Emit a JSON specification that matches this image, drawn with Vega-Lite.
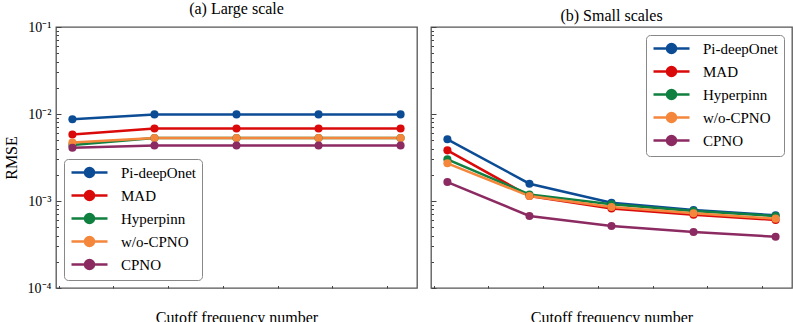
{
  "$schema": "https://vega.github.io/schema/vega-lite/v6.json",
  "padding": {"left": 2, "top": 0, "right": 1, "bottom": 0},
  "config": {
    "font": "Liberation Serif",
    "view": {"stroke": "#555", "strokeWidth": 1.3},
    "axis": {"domain": false, "grid": false, "labelFontSize": 15, "labelColor": "#000", "tickColor": "#444", "titleFontSize": 16, "titleFontWeight": "normal"},
    "title": {"fontSize": 16, "fontWeight": "normal", "offset": 3},
    "legend": {"labelFontSize": 15, "labelColor": "#000", "symbolSize": 144, "labelOffset": 36, "symbolStrokeWidth": 2.5,
      "symbolType": "M-1,0L5,0M1.25,0A0.75,0.75,0,1,1,2.75,0A0.75,0.75,0,1,1,1.25,0Z", "title": null,
      "strokeColor": "#888", "fillColor": "white", "cornerRadius": 4, "padding": 6, "rowPadding": 4}
  },
  "datasets": {
    "large": [
      {"freq": 3, "rmse": 0.0087, "model": "Pi-deepOnet"},
      {"freq": 6, "rmse": 0.0099, "model": "Pi-deepOnet"},
      {"freq": 9, "rmse": 0.0099, "model": "Pi-deepOnet"},
      {"freq": 12, "rmse": 0.0099, "model": "Pi-deepOnet"},
      {"freq": 15, "rmse": 0.0099, "model": "Pi-deepOnet"},
      {"freq": 3, "rmse": 0.0058, "model": "MAD"},
      {"freq": 6, "rmse": 0.0068, "model": "MAD"},
      {"freq": 9, "rmse": 0.0068, "model": "MAD"},
      {"freq": 12, "rmse": 0.0068, "model": "MAD"},
      {"freq": 15, "rmse": 0.0068, "model": "MAD"},
      {"freq": 3, "rmse": 0.0044, "model": "Hyperpinn"},
      {"freq": 6, "rmse": 0.0053, "model": "Hyperpinn"},
      {"freq": 9, "rmse": 0.0053, "model": "Hyperpinn"},
      {"freq": 12, "rmse": 0.0053, "model": "Hyperpinn"},
      {"freq": 15, "rmse": 0.0053, "model": "Hyperpinn"},
      {"freq": 3, "rmse": 0.0047, "model": "w/o-CPNO"},
      {"freq": 6, "rmse": 0.0053, "model": "w/o-CPNO"},
      {"freq": 9, "rmse": 0.0053, "model": "w/o-CPNO"},
      {"freq": 12, "rmse": 0.0053, "model": "w/o-CPNO"},
      {"freq": 15, "rmse": 0.0053, "model": "w/o-CPNO"},
      {"freq": 3, "rmse": 0.0041, "model": "CPNO"},
      {"freq": 6, "rmse": 0.00435, "model": "CPNO"},
      {"freq": 9, "rmse": 0.00435, "model": "CPNO"},
      {"freq": 12, "rmse": 0.00435, "model": "CPNO"},
      {"freq": 15, "rmse": 0.00435, "model": "CPNO"}
    ],
    "small": [
      {"freq": 3, "rmse": 0.00512, "model": "Pi-deepOnet"},
      {"freq": 6, "rmse": 0.00158, "model": "Pi-deepOnet"},
      {"freq": 9, "rmse": 0.000957, "model": "Pi-deepOnet"},
      {"freq": 12, "rmse": 0.000789, "model": "Pi-deepOnet"},
      {"freq": 15, "rmse": 0.000685, "model": "Pi-deepOnet"},
      {"freq": 3, "rmse": 0.00382, "model": "MAD"},
      {"freq": 6, "rmse": 0.00114, "model": "MAD"},
      {"freq": 9, "rmse": 0.000822, "model": "MAD"},
      {"freq": 12, "rmse": 0.000696, "model": "MAD"},
      {"freq": 15, "rmse": 0.000605, "model": "MAD"},
      {"freq": 3, "rmse": 0.00301, "model": "Hyperpinn"},
      {"freq": 6, "rmse": 0.00119, "model": "Hyperpinn"},
      {"freq": 9, "rmse": 0.000916, "model": "Hyperpinn"},
      {"freq": 12, "rmse": 0.000767, "model": "Hyperpinn"},
      {"freq": 15, "rmse": 0.000673, "model": "Hyperpinn"},
      {"freq": 3, "rmse": 0.00271, "model": "w/o-CPNO"},
      {"freq": 6, "rmse": 0.00114, "model": "w/o-CPNO"},
      {"freq": 9, "rmse": 0.000853, "model": "w/o-CPNO"},
      {"freq": 12, "rmse": 0.000722, "model": "w/o-CPNO"},
      {"freq": 15, "rmse": 0.000627, "model": "w/o-CPNO"},
      {"freq": 3, "rmse": 0.00165, "model": "CPNO"},
      {"freq": 6, "rmse": 0.000673, "model": "CPNO"},
      {"freq": 9, "rmse": 0.000516, "model": "CPNO"},
      {"freq": 12, "rmse": 0.000441, "model": "CPNO"},
      {"freq": 15, "rmse": 0.000389, "model": "CPNO"}
    ]
  },
  "spacing": 11,
  "resolve": {"legend": {"color": "independent"}},
  "hconcat": [
    {
      "width": 361, "height": 261,
      "title": "(a) Large scale",
      "data": {"name": "large"},
      "layer": [
        {
          "mark": {"type": "line", "strokeWidth": 2.5},
          "encoding": {
            "x": {"field": "freq", "type": "quantitative",
              "scale": {"domain": [2.4, 15.6], "nice": false, "zero": false},
              "axis": {"title": "Cutoff frequency number", "titlePadding": 2,
                "values": [2.5,3,3.5,4,4.5,5,5.5,6,6.5,7,7.5,8,8.5,9,9.5,10,10.5,11,11.5,12,12.5,13,13.5,14,14.5,15,15.5],
                "labelExpr": "datum.value % 2 == 0 ? format(datum.value, 'd') : ''",
                "tickSize": {"condition": {"test": "datum.value % 2 == 0", "value": -5}, "value": -2.5},
                "labelPadding": 7}},
            "y": {"field": "rmse", "type": "quantitative",
              "scale": {"type": "log", "domain": [0.0001, 0.1], "nice": false, "zero": false},
              "axis": {"title": "RMSE", "titlePadding": 8, "labelFontSize": 14,
                "values": [0.0001,0.0002,0.0003,0.0004,0.0005,0.0006,0.0007,0.0008,0.0009,0.001,0.002,0.003,0.004,0.005,0.006,0.007,0.008,0.009,0.01,0.02,0.03,0.04,0.05,0.06,0.07,0.08,0.09,0.1],
                "labelExpr": "datum.value == 0.1 ? '10⁻¹' : datum.value == 0.01 ? '10⁻²' : datum.value == 0.001 ? '10⁻³' : datum.value == 0.0001 ? '10⁻⁴' : ''",
                "tickSize": {"condition": {"test": "datum.value == 0.1 || datum.value == 0.01 || datum.value == 0.001 || datum.value == 0.0001", "value": -5}, "value": -2.5},
                "labelPadding": 10}},
            "color": {"field": "model", "type": "nominal",
              "scale": {"domain": ["Pi-deepOnet","MAD","Hyperpinn","w/o-CPNO","CPNO"], "range": ["#0C4C95","#DA0A0A","#108040","#F4873C","#8C2A62"]},
              "legend": {"orient": "bottom-left", "offset": 8}}
          }
        },
        {
          "mark": {"type": "point", "filled": true, "size": 65, "opacity": 1},
          "encoding": {
            "x": {"field": "freq", "type": "quantitative"},
            "y": {"field": "rmse", "type": "quantitative"},
            "color": {"field": "model", "type": "nominal"}
          }
        }
      ]
    },
    {
      "width": 361, "height": 261,
      "title": "(b) Small scales",
      "data": {"name": "small"},
      "layer": [
        {
          "mark": {"type": "line", "strokeWidth": 2.5},
          "encoding": {
            "x": {"field": "freq", "type": "quantitative",
              "scale": {"domain": [2.4, 15.6], "nice": false, "zero": false},
              "axis": {"title": "Cutoff frequency number", "titlePadding": 2,
                "values": [2.5,3,3.5,4,4.5,5,5.5,6,6.5,7,7.5,8,8.5,9,9.5,10,10.5,11,11.5,12,12.5,13,13.5,14,14.5,15,15.5],
                "labelExpr": "datum.value % 2 == 0 ? format(datum.value, 'd') : ''",
                "tickSize": {"condition": {"test": "datum.value % 2 == 0", "value": -5}, "value": -2.5},
                "labelPadding": 7}},
            "y": {"field": "rmse", "type": "quantitative",
              "scale": {"type": "log", "domain": [0.0001, 0.1], "nice": false, "zero": false},
              "axis": {"title": null, "labels": false,
                "values": [0.0001,0.0002,0.0003,0.0004,0.0005,0.0006,0.0007,0.0008,0.0009,0.001,0.002,0.003,0.004,0.005,0.006,0.007,0.008,0.009,0.01,0.02,0.03,0.04,0.05,0.06,0.07,0.08,0.09,0.1],
                "tickSize": {"condition": {"test": "datum.value == 0.1 || datum.value == 0.01 || datum.value == 0.001 || datum.value == 0.0001", "value": -5}, "value": -2.5}}},
            "color": {"field": "model", "type": "nominal",
              "scale": {"domain": ["Pi-deepOnet","MAD","Hyperpinn","w/o-CPNO","CPNO"], "range": ["#0C4C95","#DA0A0A","#108040","#F4873C","#8C2A62"]},
              "legend": {"orient": "top-right", "offset": 8}}
          }
        },
        {
          "mark": {"type": "point", "filled": true, "size": 65, "opacity": 1},
          "encoding": {
            "x": {"field": "freq", "type": "quantitative"},
            "y": {"field": "rmse", "type": "quantitative"},
            "color": {"field": "model", "type": "nominal"}
          }
        }
      ]
    }
  ]
}
